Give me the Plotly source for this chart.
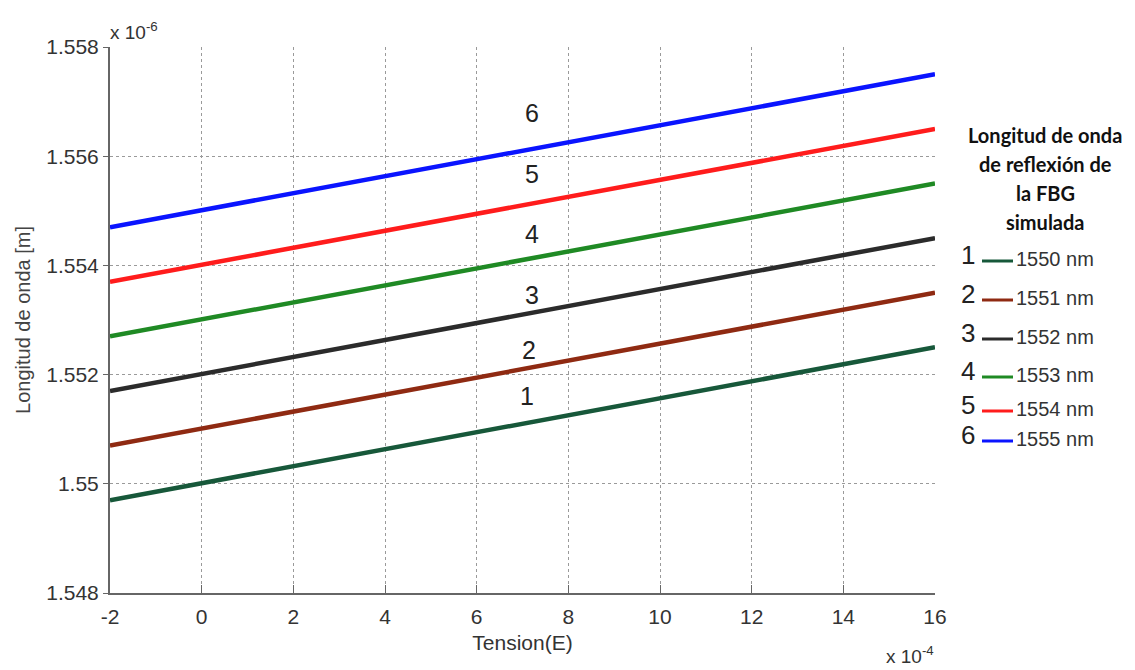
import plotly.graph_objects as go

# ---- data ----
tension_x = [-2, 16]  # x 10^-4
series_names = ["1550 nm", "1551 nm", "1552 nm", "1553 nm", "1554 nm", "1555 nm"]
series_ids = ["1", "2", "3", "4", "5", "6"]
wl_start = [1.5497, 1.5507, 1.5517, 1.5527, 1.5537, 1.5547]  # at x=-2 (x 10^-6 m)
wl_end = [1.5525, 1.5535, 1.5545, 1.5555, 1.5565, 1.5575]    # at x=16
series_colors = ["#17583a", "#8f2a12", "#2b2b2b", "#1f8a24", "#ff1c1c", "#0a14ff"]
label_x = [7.1, 7.15, 7.2, 7.2, 7.2, 7.2]
label_y = [1.5516, 1.55245, 1.55346, 1.55458, 1.55567, 1.5568]
x_ticks = [-2, 0, 2, 4, 6, 8, 10, 12, 14, 16]
y_ticks = [1.548, 1.55, 1.552, 1.554, 1.556, 1.558]
y_tick_text = ["1.548", "1.55", "1.552", "1.554", "1.556", "1.558"]
legend_title = ["Longitud de onda", "de reflexión de", "la FBG", "simulada"]

W, H = 1135, 670
OFF = 8  # page offset of the plot inside the browser window
SL, SR, ST, SB = 110, 935, 47, 593  # target screen positions of plot area
L, R, T, B = SL - OFF, SR - OFF, ST - OFF, SB - OFF


def px(xs):
    return (xs - SL) / (SR - SL)


def py(ys):
    return (SB - ys) / (SB - ST)


fig = go.Figure()
for i in range(len(series_names)):
    fig.add_trace(go.Scatter(
        x=tension_x, y=[wl_start[i], wl_end[i]], mode="lines",
        line=dict(color=series_colors[i], width=4.5), name=series_names[i],
        showlegend=False, hoverinfo="skip"))

annotations = []
for i in range(len(series_ids)):
    annotations.append(dict(x=label_x[i], y=label_y[i], xref="x", yref="y",
                            text=series_ids[i], showarrow=False,
                            font=dict(family="Liberation Sans", size=25, color="#222")))

# exponent labels
annotations.append(dict(x=px(108), y=py(31), xref="paper", yref="paper",
                        text="x 10<sup>-6</sup>", showarrow=False, xanchor="left", yanchor="middle",
                        font=dict(family="Liberation Sans", size=19, color="#333")))
annotations.append(dict(x=px(936), y=py(655), xref="paper", yref="paper",
                        text="x 10<sup>-4</sup>", showarrow=False, xanchor="right", yanchor="middle",
                        font=dict(family="Liberation Sans", size=19, color="#333")))

# legend title
title_y = [135, 164, 193, 222]
for t, yy in zip(legend_title, title_y):
    annotations.append(dict(x=px(1045), y=py(yy), xref="paper", yref="paper",
                            text="<b>%s</b>" % t, showarrow=False, xanchor="center", yanchor="middle",
                            font=dict(family="Lato", size=20, color="#111")))

entry_y = [258, 297, 336, 374, 408, 438]
shapes = []
for i in range(len(series_names)):
    yy = entry_y[i]
    annotations.append(dict(x=px(968), y=py(yy - 3), xref="paper", yref="paper",
                            text=series_ids[i], showarrow=False, xanchor="center", yanchor="middle",
                            font=dict(family="Liberation Sans", size=26, color="#222")))
    shapes.append(dict(type="line", xref="paper", yref="paper",
                       x0=px(982), x1=px(1013), y0=py(yy + 3), y1=py(yy + 3),
                       line=dict(color=series_colors[i], width=3)))
    annotations.append(dict(x=px(1014), y=py(yy + 1), xref="paper", yref="paper",
                            text=series_names[i], showarrow=False, xanchor="left", yanchor="middle",
                            font=dict(family="Liberation Sans", size=20, color="#333")))

fig.update_layout(
    width=W, height=H,
    margin=dict(l=L, r=W - R, t=T, b=H - B),
    paper_bgcolor="white", plot_bgcolor="white",
    showlegend=False,
    annotations=annotations, shapes=shapes,
    xaxis=dict(range=[-2, 16], tickvals=x_ticks, ticktext=[str(v) for v in x_ticks],
               showgrid=True, gridcolor="#9a9a9a", griddash="dot", gridwidth=1,
               showline=True, linecolor="#666", linewidth=2, mirror=False,
               ticks="inside", ticklen=8, tickcolor="#666", zeroline=False,
               ticklabelstandoff=4,
               tickfont=dict(family="Liberation Sans", size=21, color="#333"),
               title=dict(text="Tension(E)", standoff=8,
                          font=dict(family="Liberation Sans", size=21, color="#333"))),
    yaxis=dict(range=[1.548, 1.558], tickvals=y_ticks, ticktext=y_tick_text,
               showgrid=True, gridcolor="#9a9a9a", griddash="dot", gridwidth=1,
               showline=True, linecolor="#666", linewidth=2, mirror=False,
               ticks="outside", ticklen=5, tickcolor="#666", zeroline=False,
               tickfont=dict(family="Liberation Sans", size=21, color="#333"),
               title=dict(text="Longitud de onda [m]", standoff=10,
                          font=dict(family="Liberation Sans", size=20, color="#444"))),
)

fig.write_html("out.html")
